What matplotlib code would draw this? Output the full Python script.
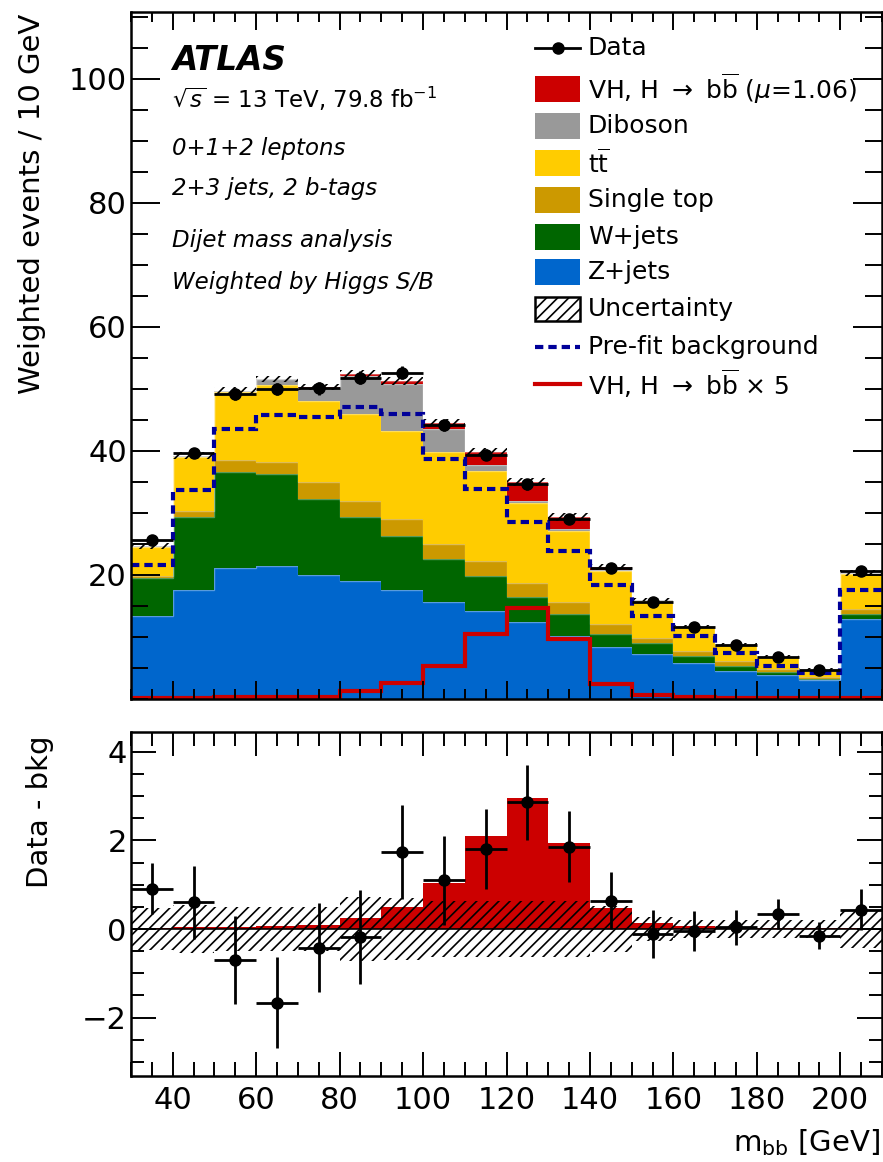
import numpy as np
import matplotlib.pyplot as plt
from matplotlib.patches import Rectangle
from matplotlib.lines import Line2D
from matplotlib.ticker import MultipleLocator, FixedLocator

plt.rcParams['mathtext.fontset'] = 'dejavusans'
plt.rcParams['hatch.linewidth'] = 1.2

# bin low edges 30..200, width 10 GeV
bin_lo = [30, 40, 50, 60, 70, 80, 90, 100, 110, 120, 130, 140, 150, 160, 170, 180, 190, 200]

zjets = [13.4, 17.6, 21.1, 21.4, 20.0, 19.0, 17.6, 15.6, 14.2, 12.4, 10.2, 8.4, 7.3, 5.8, 4.5, 3.8, 3.0, 12.9]
wjets = [6.1, 11.7, 15.5, 14.9, 12.3, 10.4, 8.7, 7.0, 5.6, 4.0, 3.5, 2.1, 1.7, 1.2, 0.8, 0.5, 0.3, 0.8]
stop = [0.3, 1.1, 1.9, 1.9, 2.7, 2.5, 2.7, 2.4, 2.5, 2.3, 2.0, 1.6, 0.8, 0.8, 0.8, 0.5, 0.3, 0.8]
ttbar = [4.7, 8.6, 11.0, 12.4, 13.1, 14.1, 14.2, 14.8, 14.5, 12.9, 11.4, 8.6, 6.0, 3.8, 2.6, 1.9, 1.1, 5.7]
diboson = [0.2, 0.2, 0.2, 1.0, 2.1, 6.1, 7.6, 3.7, 0.9, 0.4, 0.3, 0.1, 0.1, 0.1, 0.1, 0.1, 0.1, 0.1]
signal = [0.03, 0.04, 0.05, 0.06, 0.08, 0.25, 0.5, 1.05, 2.1, 2.95, 1.95, 0.48, 0.13, 0.06, 0.04, 0.03, 0.02, 0.03]
prefit = [21.6, 33.7, 43.5, 45.8, 45.5, 47.1, 46.0, 38.7, 33.9, 28.5, 23.9, 18.4, 13.4, 10.2, 7.4, 5.4, 4.2, 17.6]
unc = [0.48, 0.55, 0.5, 0.5, 0.5, 0.72, 0.7, 0.63, 0.64, 0.64, 0.64, 0.51, 0.27, 0.2, 0.2, 0.2, 0.2, 0.44]

data = [25.7, 39.7, 49.2, 50.0, 50.1, 51.8, 52.6, 44.2, 39.4, 34.6, 29.0, 21.1, 15.6, 11.6, 8.7, 6.8, 4.7, 20.6]
data_sub = [0.91, 0.6, -0.7, -1.66, -0.42, -0.18, 1.74, 1.1, 1.8, 2.86, 1.86, 0.64, -0.11, -0.05, 0.04, 0.34, -0.15, 0.44]
data_err = [0.57, 0.82, 1.0, 1.02, 1.0, 1.07, 1.07, 1.0, 0.9, 0.85, 0.8, 0.65, 0.54, 0.45, 0.4, 0.33, 0.3, 0.47]

c_sig = '#cc0000'
c_vv = '#999999'
c_tt = '#ffcc00'
c_st = '#cc9900'
c_w = '#006600'
c_z = '#0066cc'
c_pre = '#000099'

edges = np.append(bin_lo, bin_lo[-1] + 10)
centers = np.array(bin_lo) + 5

W, H = 883, 1162
fig = plt.figure(figsize=(W / 100, H / 100), dpi=100)

def fx(x):
    return x / W

def fy(y):
    return 1 - y / H

ax = fig.add_axes([fx(131), fy(699), fx(882) - fx(131), (699 - 12) / H])
ax2 = fig.add_axes([fx(131), fy(1076), fx(882) - fx(131), (1076 - 732) / H])

# stacked histogram
layers = [(zjets, c_z), (wjets, c_w), (stop, c_st), (ttbar, c_tt), (diboson, c_vv), (signal, c_sig)]
bottom = np.zeros(len(bin_lo))
for vals, col in layers:
    top = bottom + np.array(vals)
    ax.stairs(top, edges, baseline=bottom, fill=True, color=col, lw=0)
    ax.stairs(top, edges, baseline=None, color='white', alpha=0.35, lw=1)
    bottom = top
total = bottom
unc_a = np.array(unc)
ax.stairs(total + unc_a, edges, baseline=total - unc_a, fill=True, facecolor='none',
          edgecolor='black', hatch='///', lw=0)
ax.stairs(prefit, edges, baseline=None, color=c_pre, lw=3, linestyle=(0, (2, 1.2)))
ax.stairs(5 * np.array(signal), edges, baseline=None, color=c_sig, lw=3)
ax.errorbar(centers, data, xerr=5, yerr=data_err, fmt='o', color='black', ms=8, elinewidth=2, capsize=0)

ax.set_xlim(30, 210)
ax.set_ylim(0, 110.8)
ax.xaxis.set_major_locator(MultipleLocator(20))
ax.xaxis.set_minor_locator(MultipleLocator(5))
ax.yaxis.set_major_locator(FixedLocator([20, 40, 60, 80, 100]))
ax.yaxis.set_minor_locator(MultipleLocator(5))
ax.tick_params(axis='x', which='major', direction='in', top=True, bottom=True, length=13, width=1.4, labelbottom=False)
ax.tick_params(axis='x', which='minor', direction='in', top=True, bottom=True, length=7.5, width=1.4)
ax.tick_params(axis='y', which='major', direction='in', left=True, right=True, length=21, width=1.4, labelsize=22, pad=3)
ax.tick_params(axis='y', which='minor', direction='in', left=True, right=True, length=12, width=1.4)

# lower panel
ax2.stairs(signal, edges, baseline=0, fill=True, color=c_sig, lw=0)
ax2.stairs(unc_a, edges, baseline=-unc_a, fill=True, facecolor='none', edgecolor='black', hatch='///', lw=0)
ax2.axhline(0, color='black', lw=1.2)
ax2.errorbar(centers, data_sub, xerr=5, yerr=data_err, fmt='o', color='black', ms=8, elinewidth=2, capsize=0)
ax2.set_xlim(30, 210)
ax2.set_ylim(-3.32, 4.45)
ax2.xaxis.set_major_locator(MultipleLocator(20))
ax2.xaxis.set_minor_locator(MultipleLocator(5))
ax2.yaxis.set_major_locator(MultipleLocator(2))
ax2.yaxis.set_minor_locator(MultipleLocator(0.5))
ax2.tick_params(axis='x', which='major', direction='in', top=True, bottom=True, length=17, width=1.4, labelsize=22, pad=7)
ax2.tick_params(axis='x', which='minor', direction='in', top=True, bottom=True, length=10, width=1.4)
ax2.tick_params(axis='y', which='major', direction='in', left=True, right=True, length=18, width=1.4, labelsize=22, pad=3)
ax2.tick_params(axis='y', which='minor', direction='in', left=True, right=True, length=9.5, width=1.4)

for a in (ax, ax2):
    for s in a.spines.values():
        s.set_linewidth(1.8)

# axis titles
fig.text(fx(32), fy(14), 'Weighted events / 10 GeV', rotation=90, ha='center', va='top', fontsize=21)
fig.text(fx(40), fy(812), 'Data - bkg', rotation=90, ha='center', va='center', fontsize=21)
fig.text(fx(880), fy(1143), r'm$_{\rm bb}$ [GeV]', ha='right', va='center', fontsize=21)

# labels
fig.text(fx(172), fy(60), 'ATLAS', fontsize=23.5, weight='bold', style='italic', va='center')
fig.text(fx(172), fy(99), r'$\sqrt{s}$ = 13 TeV, 79.8 fb$^{-1}$', fontsize=16.5, va='center')
fig.text(fx(172), fy(148), '0+1+2 leptons', fontsize=16.5, style='italic', va='center')
fig.text(fx(172), fy(188), '2+3 jets, 2 b-tags', fontsize=16.5, style='italic', va='center')
fig.text(fx(172), fy(240), 'Dijet mass analysis', fontsize=16.5, style='italic', va='center')
fig.text(fx(172), fy(283), 'Weighted by Higgs S/B', fontsize=16.5, style='italic', va='center')

# legend
leg_rows = [
    ('line', 'Data'),
    (c_sig, r'VH, H $\rightarrow$ b$\overline{\rm b}$ ($\mu$=1.06)'),
    (c_vv, 'Diboson'),
    (c_tt, r't$\overline{\rm t}$'),
    (c_st, 'Single top'),
    (c_w, 'W+jets'),
    (c_z, 'Z+jets'),
    ('hatch', 'Uncertainty'),
    ('pre', 'Pre-fit background'),
    ('sig5', r'VH, H $\rightarrow$ b$\overline{\rm b}$ $\times$ 5'),
]
row_y = [48, 89, 126, 163, 200, 237, 272, 309, 347, 384]
x0, x1 = 535, 580
for (kind, label), yy in zip(leg_rows, row_y):
    if kind == 'line':
        fig.add_artist(Line2D([fx(x0), fx(x1)], [fy(yy), fy(yy)], color='black', lw=2,
                              transform=fig.transFigure))
        fig.add_artist(Line2D([fx((x0 + x1) / 2)], [fy(yy)], color='black', marker='o', ms=8,
                              transform=fig.transFigure))
    elif kind == 'hatch':
        fig.add_artist(Rectangle((fx(x0), fy(yy + 12)), fx(x1) - fx(x0), 24 / H, facecolor='white',
                                 edgecolor='black', hatch='///', lw=1.8, transform=fig.transFigure))
    elif kind == 'pre':
        fig.add_artist(Line2D([fx(x0), fx(x1)], [fy(yy), fy(yy)], color=c_pre, lw=3,
                              linestyle=(0, (2, 1.2)), transform=fig.transFigure))
    elif kind == 'sig5':
        fig.add_artist(Line2D([fx(x0), fx(x1)], [fy(yy), fy(yy)], color=c_sig, lw=3,
                              transform=fig.transFigure))
    else:
        fig.add_artist(Rectangle((fx(x0), fy(yy + 13)), fx(x1) - fx(x0), 26 / H, facecolor=kind,
                                 edgecolor='none', transform=fig.transFigure))
    fig.text(fx(588), fy(yy), label, fontsize=18, va='center')

fig.savefig('out.png', dpi=100)
